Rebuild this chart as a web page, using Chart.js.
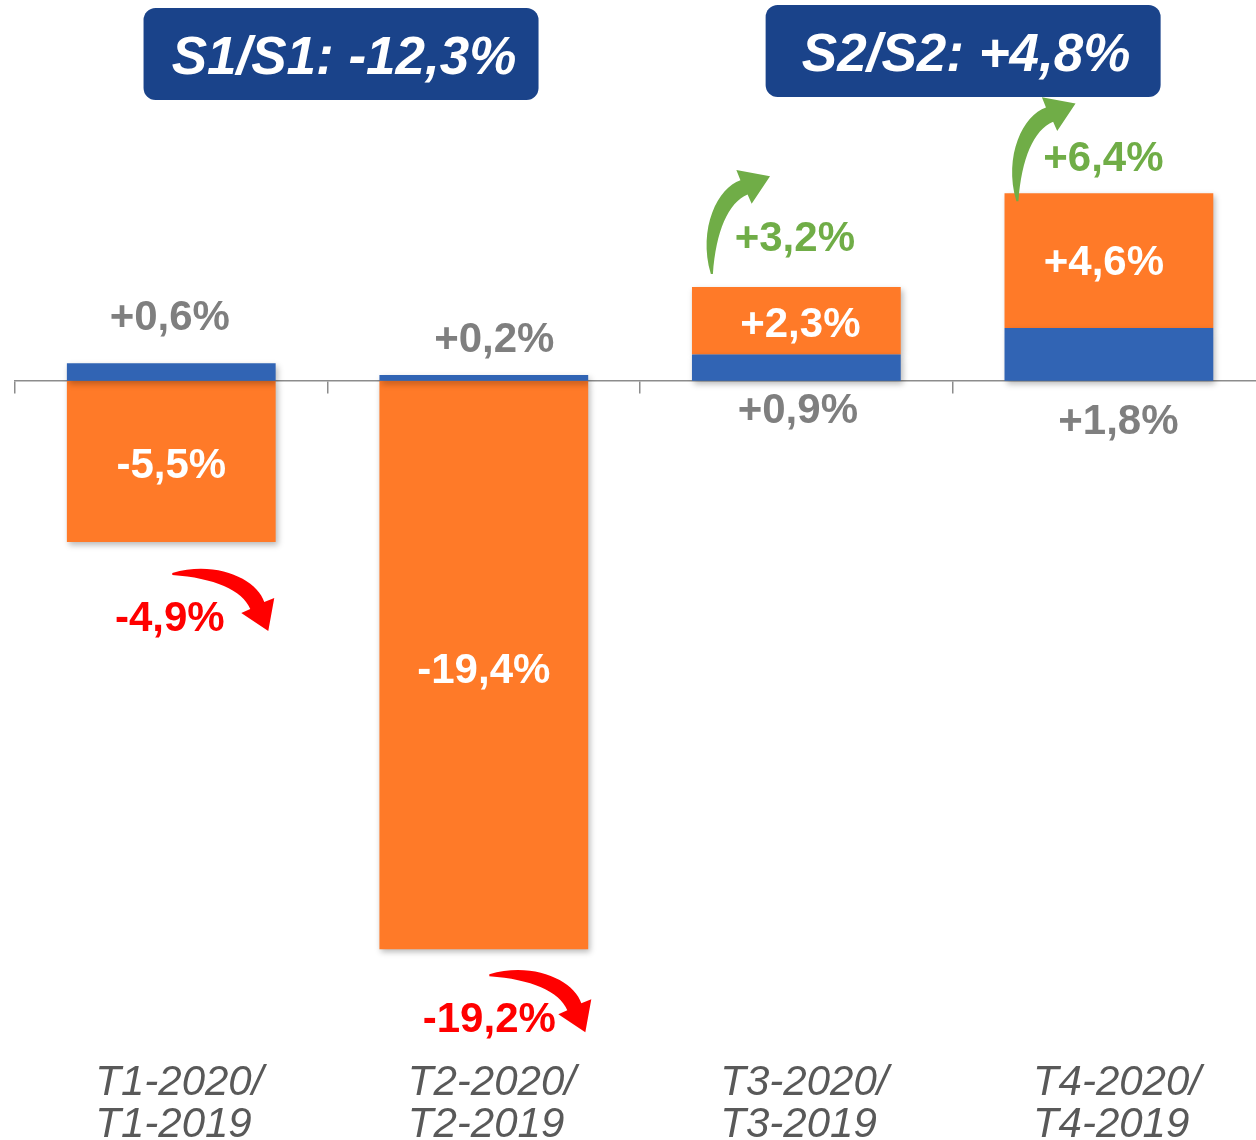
<!DOCTYPE html>
<html>
<head>
<meta charset="utf-8">
<script src="https://cdn.jsdelivr.net/npm/chart.js@4.4.1/dist/chart.umd.min.js"></script>
<style>
  html, body { margin: 0; padding: 0; background: #fff; overflow: hidden; width: 1256px; height: 1140px; }
  #wrap { width: 1277px; height: 1146px; }
</style>
</head>
<body>
<div id="wrap"><canvas id="chart" width="1277" height="1146"></canvas></div>
<script>
const categories = [['T1-2020/', 'T1-2019'], ['T2-2020/', 'T2-2019'], ['T3-2020/', 'T3-2019'], ['T4-2020/', 'T4-2019']];
const blueSeries = [0.6, 0.2, 0.9, 1.8];
const orangeSeries = [-5.5, -19.4, 2.3, 4.6];
const totals = [-4.9, -19.2, 3.2, 6.4];
const halfLabels = ['S1/S1', 'S2/S2'];
const halfValues = [-12.3, 4.8];

const FONT = '"Liberation Sans", Arial, sans-serif';
const BLUE = '#3164B4';
const ORANGE = '#FF7A28';
const GREEN = '#70AD47';
const RED = '#FF0000';
const GREY = '#7F7F7F';

const fmt = v => (v > 0 ? '+' : '') + v.toFixed(1).replace('.', ',') + '%';

// curved arrow, drawn upward-right (green), rotated for the red ones
function drawArrow(ctx, x, y, angle, scale, color) {
  ctx.save();
  ctx.translate(x, y);
  ctx.rotate(angle);
  ctx.scale(scale, scale);
  ctx.beginPath();
  ctx.moveTo(0, 0);
  ctx.bezierCurveTo(-13, -45, 7, -85, 29, -92);
  ctx.lineTo(25, -102);
  ctx.lineTo(58, -96);
  ctx.lineTo(40, -69);
  ctx.lineTo(36, -78);
  ctx.bezierCurveTo(17, -70, 5, -42, 2, 0);
  ctx.closePath();
  ctx.fillStyle = color;
  ctx.fill();
  ctx.restore();
}

function roundRect(ctx, x, y, w, h, r) {
  ctx.beginPath();
  ctx.moveTo(x + r, y);
  ctx.arcTo(x + w, y, x + w, y + h, r);
  ctx.arcTo(x + w, y + h, x, y + h, r);
  ctx.arcTo(x, y + h, x, y, r);
  ctx.arcTo(x, y, x + w, y, r);
  ctx.closePath();
}

const shadowPlugin = {
  id: 'barShadow',
  beforeDatasetsDraw(chart) {
    const c = chart.ctx;
    c.save();
    c.shadowColor = 'rgba(0,0,0,0.28)';
    c.shadowBlur = 6;
    c.shadowOffsetX = 2;
    c.shadowOffsetY = 3;
  },
  afterDatasetsDraw(chart) {
    chart.ctx.restore();
  }
};

// hand placed label offsets (px), per bar
const blueDx = [-1.5, 10.5, 1.5, 9.5], blueDy = [-33, -23, 42, 53];
const orangeDx = [0, 0, 4, -5], orangeDy = [17, 18, 16, 14];
const totalDx = [-1.5, 5.5, -1.5, -5.5], totalDy = [89, 83, -36, -22];
const arrowPos = [[1, 31], [5.5, 25], [-85.5, -13], [-92.5, 8]];

const labelPlugin = {
  id: 'valueLabels',
  afterDatasetsDraw(chart) {
    const ctx = chart.ctx;
    const blue = chart.getDatasetMeta(0).data;
    const orange = chart.getDatasetMeta(1).data;
    const zero = chart.scales.y.getPixelForValue(0);
    ctx.save();
    ctx.textAlign = 'center';
    ctx.textBaseline = 'alphabetic';
    ctx.font = 'bold 42px ' + FONT;

    blueSeries.forEach((v, i) => {
      const b = blue[i];
      const y = orangeSeries[i] < 0 ? b.y + blueDy[i] : zero + blueDy[i];
      ctx.fillStyle = GREY;
      ctx.fillText(fmt(v), b.x + blueDx[i], y);
    });

    orangeSeries.forEach((v, i) => {
      const o = orange[i];
      ctx.fillStyle = '#fff';
      ctx.fillText(fmt(v), o.x + orangeDx[i], (o.y + o.base) / 2 + orangeDy[i]);
    });

    totals.forEach((v, i) => {
      const b = blue[i], o = orange[i];
      const top = Math.min(b.y, o.y, o.base);
      const bottom = Math.max(o.y, o.base, b.base);
      const neg = v < 0;
      const y = neg ? bottom + totalDy[i] : top + totalDy[i];
      ctx.fillStyle = neg ? RED : GREEN;
      ctx.fillText(fmt(v), b.x + totalDx[i], y);
      const [ax, ay] = arrowPos[i];
      if (neg) drawArrow(ctx, b.x + ax, bottom + ay, Math.PI / 2, 1.0, RED);
      else drawArrow(ctx, b.x + ax, top + ay, 0, 1.02, GREEN);
    });
    ctx.restore();
  }
};

const boxPlugin = {
  id: 'halfBoxes',
  afterDraw(chart) {
    const ctx = chart.ctx;
    const x = chart.scales.x;
    const boxTop = [8, 5];
    const boxDx = [13.5, 10.5];
    halfLabels.forEach((lab, k) => {
      const cx = (x.getPixelForValue(2 * k) + x.getPixelForValue(2 * k + 1)) / 2 + boxDx[k];
      const w = 395, h = 92;
      ctx.save();
      roundRect(ctx, cx - w / 2, boxTop[k], w, h, 12);
      ctx.fillStyle = '#1A438A';
      ctx.fill();
      ctx.fillStyle = '#fff';
      ctx.font = 'italic bold 53px ' + FONT;
      ctx.textAlign = 'center';
      ctx.textBaseline = 'alphabetic';
      ctx.fillText(lab + ': ' + fmt(halfValues[k]), cx + 3, boxTop[k] + 66);
      ctx.restore();
    });
  }
};

new Chart(document.getElementById('chart'), {
  type: 'bar',
  data: {
    labels: categories,
    datasets: [
      { data: blueSeries, backgroundColor: BLUE, borderWidth: 0, stack: 's' },
      { data: orangeSeries, backgroundColor: ORANGE, borderWidth: 0, stack: 's' }
    ]
  },
  options: {
    responsive: false,
    animation: false,
    devicePixelRatio: 1,
    layout: { padding: { left: 15, top: 0, right: 0, bottom: 0 } },
    categoryPercentage: 1,
    barPercentage: 0.668,
    plugins: { legend: { display: false }, tooltip: { enabled: false } },
    scales: {
      x: {
        stacked: true,
        position: { y: 0 },
        offset: true,
        grid: { display: true, offset: true, drawOnChartArea: false, drawTicks: true, tickLength: 12, color: '#8C8C8C', lineWidth: 1.5 },
        border: { display: true, color: '#8C8C8C', width: 1.5 },
        ticks: { display: false }
      },
      x2: {
        type: 'category',
        position: 'bottom',
        offset: true,
        grid: { display: false, drawTicks: false },
        border: { display: false },
        ticks: {
          align: 'start',
          labelOffset: -76,
          padding: 0,
          maxRotation: 0,
          autoSkip: false,
          color: '#595959',
          font: { family: FONT, size: 42, style: 'italic', lineHeight: 1.0 }
        }
      },
      y: {
        stacked: true,
        display: false,
        min: -23.25,
        max: 13.0
      }
    }
  },
  plugins: [shadowPlugin, labelPlugin, boxPlugin]
});
</script>
</body>
</html>
